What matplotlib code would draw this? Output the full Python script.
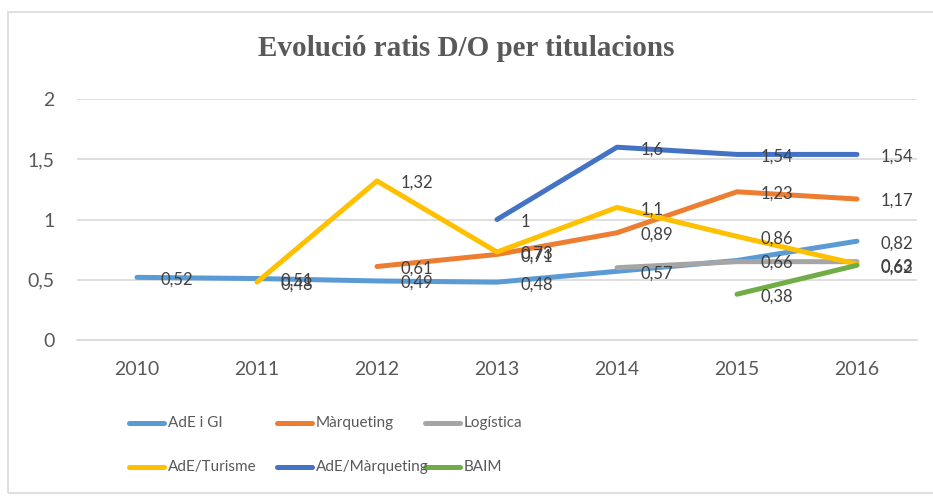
import matplotlib
matplotlib.use('Agg')
import matplotlib.pyplot as plt
from matplotlib.lines import Line2D
from matplotlib.patches import Rectangle

# data
years = ['2010', '2011', '2012', '2013', '2014', '2015', '2016']

ade_gi = [0.52, 0.51, 0.49, 0.48, 0.57, 0.66, 0.82]
marqueting = [None, None, 0.61, 0.71, 0.89, 1.23, 1.17]
logistica = [None, None, None, None, 0.60, 0.65, 0.65]
ade_turisme = [None, 0.48, 1.32, 0.73, 1.10, 0.86, 0.63]
ade_marqueting = [None, None, None, 1.00, 1.60, 1.54, 1.54]
baim = [None, None, None, None, None, 0.38, 0.62]

series_names = ['AdE i GI', 'Màrqueting', 'Logística', 'AdE/Turisme', 'AdE/Màrqueting', 'BAIM']
series_values = [ade_gi, marqueting, logistica, ade_turisme, ade_marqueting, baim]
series_colors = ['#5B9BD5', '#ED7D31', '#A5A5A5', '#FFC000', '#4472C4', '#70AD47']
show_labels = [True, True, False, True, True, True]

y_ticks = [0, 0.5, 1, 1.5, 2]

FONT = 'Lato'
TXT = '#595959'


def fmt(v):
    return f'{v:g}'.replace('.', ',')


fig = plt.figure(figsize=(9.33, 4.97), dpi=100)
ax = fig.add_axes([77 / 933, 1 - 340 / 497, 840 / 933, 241 / 497])

# chart area border
fig.add_artist(Rectangle((8 / 933, 1 - 493 / 497), 1.0, (493 - 12) / 497,
                         transform=fig.transFigure, fill=False,
                         edgecolor='#D9D9D9', lw=1.2))

x = list(range(len(years)))
for name, vals, col, lab in zip(series_names, series_values, series_colors, show_labels):
    xs = [i for i, v in zip(x, vals) if v is not None]
    ys = [v for v in vals if v is not None]
    ax.plot(xs, ys, color=col, lw=3.6, solid_capstyle='round', solid_joinstyle='round')
    if lab:
        for xi, yi in zip(xs, ys):
            ax.annotate(fmt(yi), (xi, yi), xytext=(17, -1.5), textcoords='offset points',
                        ha='left', va='center', fontsize=12, color='#404040',
                        family=FONT, zorder=5)

ax.set_xlim(-0.5, 6.5)
ax.set_ylim(0, 2)
ax.set_xticks(x)
ax.set_xticklabels(years)
ax.set_yticks(y_ticks)
ax.set_yticklabels([fmt(t) for t in y_ticks])
ax.tick_params(length=0, labelsize=14, labelcolor=TXT)
ax.tick_params(axis='y', pad=16)
ax.tick_params(axis='x', pad=15)
for t in ax.get_xticklabels() + ax.get_yticklabels():
    t.set_family(FONT)
ax.grid(axis='y', color='#D9D9D9', lw=1.2)
ax.set_axisbelow(True)
for s in ['top', 'right', 'left']:
    ax.spines[s].set_visible(False)
ax.spines['bottom'].set_color('#D9D9D9')
ax.spines['bottom'].set_linewidth(1.2)

fig.text(0.5, 1 - 48 / 497, 'Evolució ratis D/O per titulacions', ha='center', va='center',
         fontsize=21, fontweight='bold', family='Liberation Serif', color=TXT)

# legend laid out like the Excel one (3 columns, 2 rows)
col_x = [129, 277, 425]
row_y = [423, 467]
for i, (name, col) in enumerate(zip(series_names, series_colors)):
    cx = col_x[i % 3]
    ry = row_y[i // 3]
    fig.add_artist(Line2D([cx / 933, (cx + 35) / 933], [1 - ry / 497, 1 - ry / 497],
                          transform=fig.transFigure, color=col, lw=3.6,
                          solid_capstyle='round'))
    fig.text((cx + 39) / 933, 1 - ry / 497, name, ha='left', va='center',
             fontsize=11, family=FONT, color=TXT)

fig.savefig('out.png', dpi=100)
